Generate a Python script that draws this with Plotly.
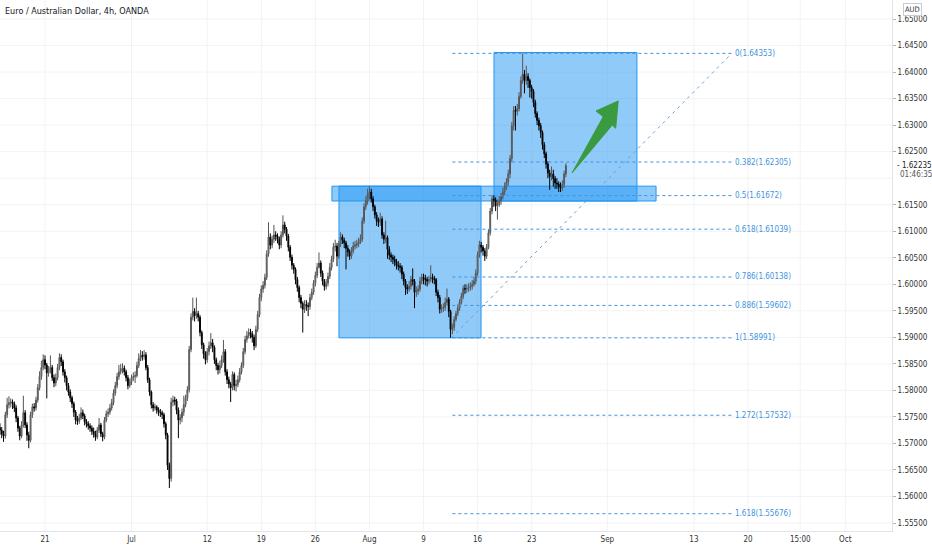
import plotly.graph_objects as go

TITLE = "Euro / Australian Dollar, 4h, OANDA"
CURRENCY = "AUD"
COUNTDOWN = "01:46:35"

# bar index 0 = first 4h bar of Mon 21 Jun (weekend gaps removed, as on the source chart)
FIRST_BAR = -25
FIRST_OPEN = 1.5730
CLOSE = [
    1.5725, 1.5718, 1.5714, 1.5754, 1.5773, 1.5777, 1.5778, 1.5775, 1.5767, 1.5748,
    1.5729, 1.5714, 1.5735, 1.5758, 1.5735, 1.5716, 1.5706, 1.5754, 1.5769, 1.5767,
    1.5782, 1.5805, 1.5826, 1.5843, 1.5858, 1.5848, 1.5833, 1.5839, 1.5843, 1.5824,
    1.5814, 1.5824, 1.5843, 1.5862, 1.5854, 1.5835, 1.5824, 1.5809, 1.5797, 1.5786,
    1.5775, 1.5759, 1.5744, 1.5742, 1.5748, 1.5758, 1.5752, 1.5741, 1.5737, 1.5733,
    1.5729, 1.5723, 1.5718, 1.5712, 1.5725, 1.5735, 1.5718, 1.5712, 1.5744, 1.5756,
    1.5759, 1.5767, 1.5777, 1.5795, 1.5809, 1.5826, 1.5835, 1.5841, 1.5842, 1.5835,
    1.5824, 1.5809, 1.5816, 1.5824, 1.5826, 1.5828, 1.5847, 1.5860, 1.5866, 1.5864,
    1.5867, 1.5843, 1.5820, 1.5797, 1.5773, 1.5767, 1.5769, 1.5763, 1.5759, 1.5758,
    1.5754, 1.5737, 1.5716, 1.5659, 1.5634, 1.5778, 1.5782, 1.5780, 1.5763, 1.5744,
    1.5748, 1.5759, 1.5773, 1.5786, 1.5801, 1.5877, 1.5938, 1.5949, 1.5941, 1.5945,
    1.5938, 1.5909, 1.5886, 1.5869, 1.5858, 1.5873, 1.5884, 1.5890, 1.5881, 1.5858,
    1.5847, 1.5839, 1.5847, 1.5858, 1.5873, 1.5835, 1.5820, 1.5812, 1.5805, 1.5830,
    1.5809, 1.5811, 1.5820, 1.5835, 1.5847, 1.5873, 1.5896, 1.5903, 1.5909, 1.5907,
    1.5900, 1.5884, 1.5915, 1.5943, 1.5975, 1.5991, 1.5998, 1.6013, 1.6057, 1.6089,
    1.6074, 1.6085, 1.6093, 1.6091, 1.6085, 1.6074, 1.6093, 1.6112, 1.6104, 1.6091,
    1.6070, 1.6051, 1.6036, 1.6028, 1.6009, 1.5994, 1.5975, 1.5964, 1.5953, 1.5962,
    1.5960, 1.5958, 1.5975, 1.5985, 1.6002, 1.6017, 1.6032, 1.6040, 1.6021, 1.6006,
    1.5996, 1.6002, 1.6015, 1.6032, 1.6047, 1.6070, 1.6072, 1.6053, 1.6076, 1.6089,
    1.6083, 1.6078, 1.6068, 1.6061, 1.6053, 1.6063, 1.6072, 1.6074, 1.6076, 1.6080,
    1.6085, 1.6119, 1.6146, 1.6157, 1.6169, 1.6174, 1.6161, 1.6146, 1.6131, 1.6119,
    1.6117, 1.6123, 1.6093, 1.6085, 1.6088, 1.6066, 1.6055, 1.6051, 1.6047, 1.6042,
    1.6036, 1.6034, 1.6032, 1.6019, 1.6006, 1.5994, 1.5991, 1.5996, 1.6009, 1.6006,
    1.5985, 1.5987, 1.5991, 1.6006, 1.6013, 1.6011, 1.6009, 1.6006, 1.6009, 1.6013,
    1.6011, 1.6009, 1.5985, 1.5975, 1.5953, 1.5955, 1.5956, 1.5966, 1.5972, 1.5949,
    1.5915, 1.5919, 1.5934, 1.5945, 1.5955, 1.5966, 1.5977, 1.5992, 1.5991, 1.5992,
    1.5994, 1.5996, 1.6000, 1.6006, 1.6021, 1.6055, 1.6074, 1.6070, 1.6063, 1.6053,
    1.6070, 1.6097, 1.6138, 1.6161, 1.6159, 1.6148, 1.6150, 1.6157, 1.6165, 1.6174,
    1.6184, 1.6193, 1.6208, 1.6237, 1.6299, 1.6328, 1.6326, 1.6331, 1.6354, 1.6384,
    1.6396, 1.6384, 1.6392, 1.6384, 1.6371, 1.6364, 1.6343, 1.6322, 1.6309, 1.6299,
    1.6286, 1.6263, 1.6246, 1.6227, 1.6210, 1.6203, 1.6208, 1.6199, 1.6191, 1.6189,
    1.6184, 1.6182, 1.6188, 1.6208, 1.62235,
]
HIGH = [
    1.5738, 1.5731, 1.5724, 1.5760, 1.5786, 1.5789, 1.5785, 1.5783, 1.5779, 1.5772,
    1.5752, 1.5733, 1.5742, 1.5790, 1.5763, 1.5740, 1.5722, 1.5760, 1.5775, 1.5776,
    1.5788, 1.5812, 1.5836, 1.5856, 1.5868, 1.5866, 1.5852, 1.5846, 1.5866, 1.5848,
    1.5830, 1.5832, 1.5850, 1.5870, 1.5868, 1.5858, 1.5840, 1.5828, 1.5814, 1.5802,
    1.5790, 1.5779, 1.5763, 1.5752, 1.5756, 1.5768, 1.5764, 1.5756, 1.5746, 1.5742,
    1.5738, 1.5734, 1.5730, 1.5724, 1.5731, 1.5748, 1.5739, 1.5722, 1.5750, 1.5762,
    1.5766, 1.5774, 1.5784, 1.5802, 1.5816, 1.5833, 1.5848, 1.5850, 1.5851, 1.5847,
    1.5839, 1.5829, 1.5822, 1.5830, 1.5834, 1.5836, 1.5854, 1.5870, 1.5876, 1.5874,
    1.5876, 1.5872, 1.5848, 1.5824, 1.5800, 1.5778, 1.5775, 1.5772, 1.5768, 1.5765,
    1.5762, 1.5758, 1.5741, 1.5720, 1.5664, 1.5786, 1.5790, 1.5788, 1.5784, 1.5768,
    1.5755, 1.5766, 1.5790, 1.5792, 1.5808, 1.5884, 1.5945, 1.5975, 1.5955, 1.5975,
    1.5950, 1.5942, 1.5913, 1.5890, 1.5874, 1.5880, 1.5892, 1.5908, 1.5897, 1.5885,
    1.5862, 1.5852, 1.5856, 1.5866, 1.5895, 1.5878, 1.5840, 1.5826, 1.5816, 1.5836,
    1.5834, 1.5820, 1.5828, 1.5842, 1.5853, 1.5880, 1.5903, 1.5912, 1.5917, 1.5916,
    1.5912, 1.5905, 1.5922, 1.5950, 1.5982, 1.5998, 1.6006, 1.6020, 1.6064, 1.6117,
    1.6096, 1.6092, 1.6112, 1.6100, 1.6096, 1.6090, 1.6100, 1.6130, 1.6118, 1.6108,
    1.6095, 1.6074, 1.6056, 1.6040, 1.6032, 1.6014, 1.5998, 1.5980, 1.5968, 1.5970,
    1.5970, 1.5966, 1.5982, 1.5992, 1.6008, 1.6024, 1.6040, 1.6060, 1.6045, 1.6026,
    1.6010, 1.6010, 1.6022, 1.6040, 1.6054, 1.6078, 1.6084, 1.6078, 1.6082, 1.6098,
    1.6094, 1.6088, 1.6082, 1.6074, 1.6066, 1.6070, 1.6080, 1.6082, 1.6084, 1.6088,
    1.6094, 1.6126, 1.6153, 1.6166, 1.6180, 1.6185, 1.6180, 1.6166, 1.6150, 1.6136,
    1.6126, 1.6135, 1.6128, 1.6098, 1.6120, 1.6092, 1.6072, 1.6060, 1.6056, 1.6054,
    1.6048, 1.6044, 1.6040, 1.6036, 1.6024, 1.6010, 1.6000, 1.6006, 1.6016, 1.6030,
    1.6010, 1.5996, 1.5998, 1.6014, 1.6020, 1.6020, 1.6018, 1.6014, 1.6016, 1.6036,
    1.6020, 1.6016, 1.6012, 1.5990, 1.5980, 1.5962, 1.5964, 1.5975, 1.5992, 1.5976,
    1.5952, 1.5926, 1.5940, 1.5950, 1.5962, 1.5972, 1.5984, 1.5998, 1.6000, 1.6000,
    1.6002, 1.6004, 1.6008, 1.6014, 1.6028, 1.6062, 1.6082, 1.6080, 1.6074, 1.6068,
    1.6076, 1.6104, 1.6144, 1.6168, 1.6168, 1.6164, 1.6160, 1.6166, 1.6172, 1.6182,
    1.6192, 1.6200, 1.6216, 1.6244, 1.6306, 1.6336, 1.6336, 1.6340, 1.6362, 1.6392,
    1.64353, 1.6404, 1.6412, 1.6398, 1.6388, 1.6376, 1.6368, 1.6348, 1.6326, 1.6314,
    1.6304, 1.6290, 1.6268, 1.6250, 1.6232, 1.6216, 1.6222, 1.6216, 1.6204, 1.6200,
    1.6194, 1.6192, 1.6196, 1.6214, 1.6228,
]
LOW = [
    1.5716, 1.5710, 1.5703, 1.5709, 1.5748, 1.5766, 1.5768, 1.5765, 1.5759, 1.5740,
    1.5722, 1.5706, 1.5710, 1.5730, 1.5729, 1.5705, 1.5691, 1.5702, 1.5748, 1.5760,
    1.5762, 1.5777, 1.5800, 1.5820, 1.5838, 1.5840, 1.5785, 1.5826, 1.5832, 1.5818,
    1.5806, 1.5808, 1.5819, 1.5838, 1.5846, 1.5828, 1.5815, 1.5800, 1.5790, 1.5778,
    1.5767, 1.5750, 1.5736, 1.5735, 1.5737, 1.5744, 1.5746, 1.5734, 1.5730, 1.5726,
    1.5722, 1.5716, 1.5711, 1.5705, 1.5708, 1.5720, 1.5712, 1.5704, 1.5708, 1.5740,
    1.5750, 1.5754, 1.5762, 1.5772, 1.5790, 1.5804, 1.5820, 1.5830, 1.5832, 1.5828,
    1.5817, 1.5802, 1.5805, 1.5810, 1.5818, 1.5814, 1.5824, 1.5842, 1.5855, 1.5856,
    1.5858, 1.5838, 1.5814, 1.5790, 1.5766, 1.5760, 1.5762, 1.5756, 1.5752, 1.5750,
    1.5746, 1.5730, 1.5708, 1.5650, 1.5616, 1.5628, 1.5770, 1.5772, 1.5755, 1.5710,
    1.5736, 1.5740, 1.5752, 1.5768, 1.5780, 1.5796, 1.5872, 1.5932, 1.5930, 1.5935,
    1.5930, 1.5902, 1.5878, 1.5860, 1.5849, 1.5852, 1.5866, 1.5878, 1.5872, 1.5850,
    1.5838, 1.5830, 1.5832, 1.5842, 1.5852, 1.5828, 1.5812, 1.5804, 1.5778, 1.5800,
    1.5800, 1.5798, 1.5806, 1.5815, 1.5830, 1.5842, 1.5868, 1.5890, 1.5898, 1.5898,
    1.5890, 1.5876, 1.5880, 1.5910, 1.5938, 1.5968, 1.5984, 1.5992, 1.6008, 1.6052,
    1.6066, 1.6068, 1.6078, 1.6082, 1.6077, 1.6066, 1.6068, 1.6088, 1.6096, 1.6082,
    1.6062, 1.6044, 1.6028, 1.6020, 1.6000, 1.5986, 1.5966, 1.5955, 1.5909, 1.5946,
    1.5950, 1.5940, 1.5952, 1.5970, 1.5980, 1.5996, 1.6012, 1.6030, 1.6014, 1.5998,
    1.5988, 1.5990, 1.5996, 1.6010, 1.6026, 1.6042, 1.6062, 1.6034, 1.6048, 1.6070,
    1.6076, 1.6068, 1.6028, 1.6052, 1.6046, 1.6048, 1.6058, 1.6066, 1.6068, 1.6070,
    1.6076, 1.6080, 1.6114, 1.6140, 1.6150, 1.6160, 1.6154, 1.6138, 1.6124, 1.6110,
    1.6108, 1.6110, 1.6086, 1.6076, 1.6078, 1.6048, 1.6046, 1.6042, 1.6038, 1.6034,
    1.6028, 1.6026, 1.6022, 1.6010, 1.5998, 1.5980, 1.5982, 1.5986, 1.5990, 1.5998,
    1.5955, 1.5976, 1.5980, 1.5986, 1.6000, 1.6000, 1.5998, 1.5996, 1.6000, 1.6004,
    1.6002, 1.6000, 1.5978, 1.5966, 1.5945, 1.5946, 1.5948, 1.5950, 1.5960, 1.5938,
    1.58991, 1.5906, 1.5912, 1.5930, 1.5940, 1.5950, 1.5962, 1.5972, 1.5982, 1.5984,
    1.5986, 1.5988, 1.5990, 1.5996, 1.6000, 1.6016, 1.6050, 1.6060, 1.6054, 1.6044,
    1.6048, 1.6066, 1.6092, 1.6132, 1.6146, 1.6138, 1.6122, 1.6146, 1.6150, 1.6160,
    1.6168, 1.6178, 1.6186, 1.6200, 1.6230, 1.6290, 1.6290, 1.6318, 1.6326, 1.6350,
    1.6378, 1.6360, 1.6376, 1.6370, 1.6352, 1.6350, 1.6334, 1.6314, 1.6300, 1.6290,
    1.6276, 1.6254, 1.6238, 1.6218, 1.6200, 1.6178, 1.6196, 1.6184, 1.6180, 1.6180,
    1.6174, 1.6174, 1.6176, 1.6182, 1.6202,
]

TICK_BARS = [0, 48, 90, 120, 150, 180, 210, 240, 270, 312, 360, 390, 419, 444]
TICK_TEXT = ["21", "Jul", "12", "19", "26", "Aug", "9", "16", "23", "Sep", "13", "20", "15:00", "Oct"]
X_RANGE = [-24.96, 469.9]
Y_RANGE = [1.55350, 1.65359]
# price scale labels (1.62000 is hidden behind the last-price label on the source)
PRICE_TICKS = [1.555, 1.560, 1.565, 1.570, 1.575, 1.580, 1.585, 1.590, 1.595, 1.600,
               1.605, 1.610, 1.615, 1.625, 1.630, 1.635, 1.640, 1.645, 1.650]
GRID_PRICES = [1.555, 1.560, 1.565, 1.570, 1.575, 1.580, 1.585, 1.590, 1.595, 1.600,
               1.605, 1.610, 1.615, 1.620, 1.625, 1.630, 1.635, 1.640, 1.645, 1.650]

# Fibonacci retracement drawing
FIB_LEVELS = ["0", "0.382", "0.5", "0.618", "0.786", "0.886", "1", "1.272", "1.618"]
FIB_PRICES = [1.64353, 1.62305, 1.61672, 1.61039, 1.60138, 1.59602, 1.58991, 1.57532, 1.55676]
FIB_BARS = [226, 381]
TREND_BARS = [225.5, 381]
TREND_PRICES = [1.58991, 1.64353]

# rectangles (bar range, price range)
ZONE_BARS = [159.2, 339]
ZONE_PRICES = [1.6157, 1.6185]
BOX_LEFT_BARS = [163.1, 241.9]
BOX_LEFT_PRICES = [1.58991, 1.6185]
BOX_RIGHT_BARS = [249.1, 328.4]
BOX_RIGHT_PRICES = [1.6157, 1.6437]

# green arrow drawing outline (bar, price)
ARROW_BARS = [292.5, 314.7, 316.6, 318.0, 305.7, 309.7]
ARROW_PRICES = [1.62104, 1.63003, 1.62941, 1.63455, 1.63267, 1.63159]

FONT = "Liberation Sans Narrow, DejaVu Sans Condensed, Liberation Sans, sans-serif"
BLUE = "#2196F3"
FIB_COLOR = "#4193dd"
GRID = "#f2f3f6"

bars = list(range(FIRST_BAR, FIRST_BAR + len(CLOSE)))
opens = [FIRST_OPEN] + CLOSE[:-1]

fig = go.Figure()
fig.add_trace(go.Candlestick(
    x=bars, open=opens, high=HIGH, low=LOW, close=CLOSE,
    increasing=dict(line=dict(color="#555555", width=1), fillcolor="#a3a3a3"),
    decreasing=dict(line=dict(color="#000000", width=1), fillcolor="#000000"),
    whiskerwidth=0, hoverinfo="skip", showlegend=False,
))

shapes = []
for p in GRID_PRICES:
    shapes.append(dict(type="line", xref="paper", yref="y", x0=0, x1=1, y0=p, y1=p,
                       line=dict(color=GRID, width=1), layer="below"))
for b in TICK_BARS:
    shapes.append(dict(type="line", xref="x", yref="paper", x0=b, x1=b, y0=0, y1=1,
                       line=dict(color=GRID, width=1), layer="below"))
for bx, py in [(BOX_LEFT_BARS, BOX_LEFT_PRICES), (BOX_RIGHT_BARS, BOX_RIGHT_PRICES), (ZONE_BARS, ZONE_PRICES)]:
    shapes.append(dict(type="rect", xref="x", yref="y", x0=bx[0], x1=bx[1], y0=py[0], y1=py[1],
                       fillcolor="rgba(33,150,243,0.5)", line=dict(color=BLUE, width=1), layer="below"))
for p in FIB_PRICES:
    shapes.append(dict(type="line", xref="x", yref="y", x0=FIB_BARS[0], x1=FIB_BARS[1], y0=p, y1=p,
                       line=dict(color=FIB_COLOR, width=1, dash="3px,3px")))
shapes.append(dict(type="line", xref="x", yref="y", x0=TREND_BARS[0], x1=TREND_BARS[1],
                   y0=TREND_PRICES[0], y1=TREND_PRICES[1],
                   line=dict(color="#6a9fd8", width=1, dash="3px,4px")))
path = "M " + " L ".join(f"{b},{p}" for b, p in zip(ARROW_BARS, ARROW_PRICES)) + " Z"
shapes.append(dict(type="path", xref="x", yref="y", path=path, fillcolor="#3a9a3f",
                   line=dict(color="#3a9a3f", width=1)))

annotations = [
    dict(xref="paper", yref="paper", x=0, y=1, xanchor="left", yanchor="top", xshift=3, yshift=-4,
         text=TITLE, showarrow=False, font=dict(family=FONT, size=9, color="#131722")),
    dict(xref="paper", yref="paper", x=1, y=1, xanchor="left", yanchor="top", xshift=11, yshift=-3,
         text=CURRENCY, showarrow=False, font=dict(family=FONT, size=7.5, color="#333333"),
         bordercolor="#c8cbd3", borderwidth=1, borderpad=1),
    dict(xref="paper", yref="y", x=1, y=CLOSE[-1], xanchor="left", yanchor="middle", xshift=3,
         text=f"- {CLOSE[-1]:.5f}", showarrow=False, font=dict(family=FONT, size=8, color="#222222")),
    dict(xref="paper", yref="y", x=1, y=CLOSE[-1], xanchor="left", yanchor="middle", xshift=6, yshift=-9,
         text=COUNTDOWN, showarrow=False, font=dict(family=FONT, size=8, color="#555555")),
]
for lvl, p in zip(FIB_LEVELS, FIB_PRICES):
    annotations.append(dict(xref="x", yref="y", x=FIB_BARS[1], y=p, xanchor="left", yanchor="middle",
                            xshift=1, text=f"{lvl}({p:.5f})", showarrow=False,
                            font=dict(family=FONT, size=8, color=FIB_COLOR)))

fig.update_layout(
    width=932, height=550,
    margin=dict(l=0, r=40, t=0, b=19),
    paper_bgcolor="white", plot_bgcolor="white",
    showlegend=False,
    shapes=shapes, annotations=annotations,
    xaxis=dict(range=X_RANGE, rangeslider=dict(visible=False), tickmode="array",
               tickvals=TICK_BARS, ticktext=TICK_TEXT, showgrid=False,
               zeroline=False, showline=True, linecolor="#e0e3eb", ticks="",
               tickfont=dict(family=FONT, size=8, color="#333333")),
    yaxis=dict(range=Y_RANGE, side="right", tickmode="array", tickvals=PRICE_TICKS,
               tickformat=".5f", showgrid=False, zeroline=False,
               showline=True, linecolor="#e0e3eb", ticks="outside", ticklen=3, tickcolor="#b2b5be",
               tickfont=dict(family=FONT, size=8, color="#333333")),
)

fig.write_html("out.html", config={"displayModeBar": False},
               post_script="document.body.style.margin='0';document.body.style.overflow='hidden';")
